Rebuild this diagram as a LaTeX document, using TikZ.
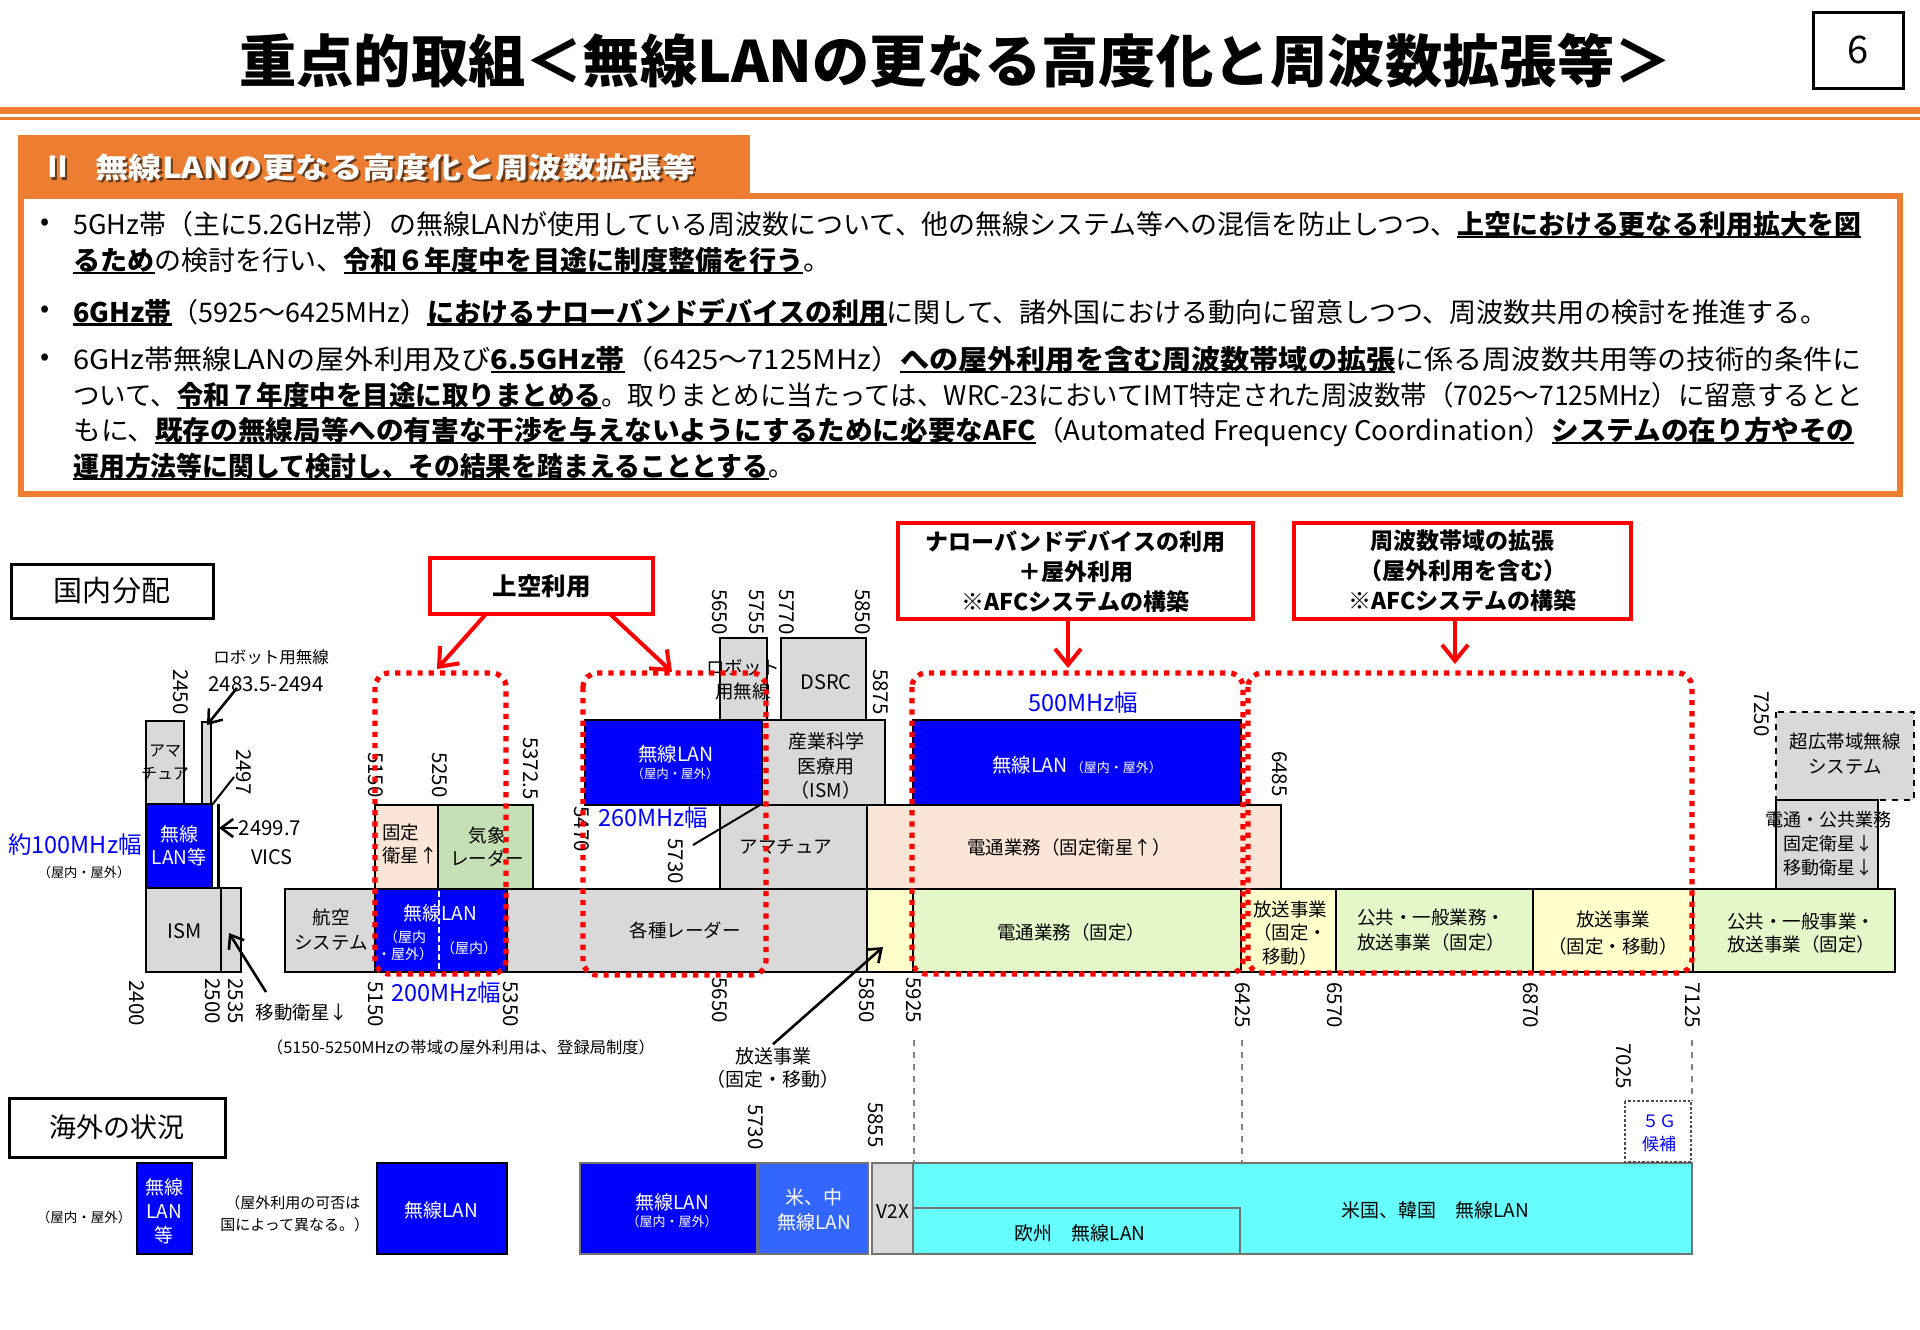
\documentclass[tikz,border=0pt]{standalone}
\usepackage{fontspec}
\usepackage{graphicx}
\setmainfont{Noto Sans CJK JP}
\usetikzlibrary{arrows.meta}
\definecolor{orng}{HTML}{ED7D31}
\definecolor{bblue}{HTML}{0000FF}
\definecolor{lblue}{HTML}{3366FF}
\definecolor{cyn}{HTML}{66FFFF}
\definecolor{gry}{HTML}{D9D9D9}
\definecolor{pch}{HTML}{FBE5D6}
\definecolor{grn}{HTML}{C5E0B4}
\definecolor{lgrn}{HTML}{E4F7C8}
\definecolor{lyel}{HTML}{FFFFCC}
\definecolor{rd}{HTML}{FF0000}
\definecolor{shd}{HTML}{6B3A16}
\newlength\pxu \setlength\pxu{0.5pt}
\newsavebox\ulbox
\newcommand\fs[2]{\fontsize{#1pt}{#2pt}\selectfont}
\newcommand\fw[2]{\resizebox{#1\pxu}{\height}{#2}}
\newcommand\ul[1]{\sbox\ulbox{\bfseries #1}\rlap{\rule[-3.5\pxu]{\wd\ulbox}{2.2\pxu}}\usebox\ulbox}
\begin{document}
\begin{tikzpicture}[x=0.5pt,y=-0.5pt,
  lbl/.style={inner sep=0, font=\fs{9.25}{12}, align=center},
  wt/.style={lbl, text=white},
  frq/.style={rotate=-90, inner sep=0, font=\fs{10.25}{12}},
  bluet/.style={inner sep=0, text=bblue, font=\fs{11.75}{14}},
  band/.style={draw=black, line width=1.3pt},
  ovs/.style={draw=black!55, line width=0.9pt},
  reddot/.style={draw=rd, line width=2.6pt, dash pattern=on 2.6pt off 3pt, rounded corners=7pt},
  redbox/.style={draw=rd, line width=2pt, fill=white, inner sep=0, align=center, font=\bfseries\fs{11.5}{15}},
  blkbox/.style={draw=black, line width=1.5pt, inner sep=0},
  rarrow/.style={draw=rd, line width=2pt, -{Straight Barb[length=8pt,width=13pt]}},
  barrow/.style={draw=black, line width=1.3pt, -{Straight Barb[length=6pt,width=9pt]}},
  bodyt/.style={anchor=west, inner sep=0, font=\fs{13.5}{16}}
]
\useasboundingbox (0,0) rectangle (1920,1329);
\fill[white] (0,0) rectangle (1920,1329);

% ---------------- header ----------------
\node[inner sep=0, anchor=west, font=\bfseries\fs{28.5}{30}] (title) at (239,61) {\fw{1432}{重点的取組＜無線LANの更なる高度化と周波数拡張等＞}};
\node[blkbox, minimum width=90\pxu, minimum height=76\pxu, font=\fs{19}{20}] (pageno) at (1858,50) {6};
\fill[orng] (0,107) rectangle (1920,114);
\fill[orng] (0,117) rectangle (1920,119.5);

% ---------------- section box ----------------
\draw[orng, line width=3pt] (21,196) rectangle (1900,494);
\fill[orng] (18,135) rectangle (750,199);
\node[anchor=west, inner sep=0, font=\bfseries\fs{14.4}{16}, text=shd] (s2sh) at (45.5,169.5) {Ⅱ};
\node[anchor=west, inner sep=0, font=\bfseries\fs{14.4}{16}, text=shd] (sttlsh) at (97.5,169.5) {\fw{600}{無線LANの更なる高度化と周波数拡張等}};
\node[anchor=west, inner sep=0, font=\bfseries\fs{14.4}{16}, text=white] (s2) at (43,167) {Ⅱ};
\node[anchor=west, inner sep=0, font=\bfseries\fs{14.4}{16}, text=white] (sttl) at (95,167) {\fw{600}{無線LANの更なる高度化と周波数拡張等}};

\node[bodyt] (bu1) at (40,225) {•};
\node[bodyt] (bu2) at (40,312) {•};
\node[bodyt] (bu3) at (40,360) {•};
\node[bodyt] (l1) at (73,225) {\fw{1788}{5GHz帯（主に5.2GHz帯）の無線LANが使用している周波数について、他の無線システム等への混信を防止しつつ、\ul{上空における更なる利用拡大を図}}};
\node[bodyt] (l2) at (73,261) {\fw{757}{\ul{るため}の検討を行い、\ul{令和６年度中を目途に制度整備を行う}。}};
\node[bodyt] (l3) at (73,312) {\fw{1754}{\ul{6GHz帯}（5925～6425MHz）\ul{におけるナローバンドデバイスの利用}に関して、諸外国における動向に留意しつつ、周波数共用の検討を推進する。}};
\node[bodyt] (l4) at (73,360) {\fw{1788}{6GHz帯無線LANの屋外利用及び\ul{6.5GHz帯}（6425～7125MHz）\ul{への屋外利用を含む周波数帯域の拡張}に係る周波数共用等の技術的条件に}};
\node[bodyt] (l5) at (73,396) {\fw{1790}{ついて、\ul{令和７年度中を目途に取りまとめる}。取りまとめに当たっては、WRC-23においてIMT特定された周波数帯（7025～7125MHz）に留意するとと}};
\node[bodyt] (l6) at (73,432) {\fw{1781}{もに、\ul{既存の無線局等への有害な干渉を与えないようにするために必要なAFC}（Automated Frequency Coordination）\ul{システムの在り方やその}}};
\node[bodyt] (l7) at (73,467) {\fw{721}{\ul{運用方法等に関して検討し、その結果を踏まえることとする}。}};

% ---------------- labels boxes ----------------
\node[blkbox, minimum width=202\pxu, minimum height=54\pxu, font=\fs{14.5}{16}] (kokunai) at (112,591) {国内分配};
\node[blkbox, minimum width=216\pxu, minimum height=59\pxu, font=\fs{13.5}{16}] (kaigai) at (117,1127.5) {海外の状況};

% ---------------- left 2.4GHz group ----------------
\draw[band, fill=gry] (146,721) rectangle (184,804);
\draw[band, fill=gry] (202,722) rectangle (211,805);
\draw[band, fill=bblue] (146,804) rectangle (212,888);
\draw[line width=1.5pt] (218,804) -- (218,888);
\draw[band, fill=gry] (146,888) rectangle (221,972);
\draw[band, fill=gry] (221,888) rectangle (241,972);
\node[lbl, font=\fs{8}{11.5}] (ama0) at (165,763) {アマ\\チュア};
\node[wt, font=\fs{9.5}{11.5}] (wlan0) at (179,846) {無線\\LAN等};
\node[lbl, font=\fs{10}{12}] (ism0) at (185,931) {ISM};
\node[lbl, font=\fs{8.25}{10}] (robo0) at (271,657) {ロボット用無線};
\node[lbl, font=\fs{10.25}{12}] (robof) at (266,684) {2483.5-2494};
\coordinate (robotip) at (207,725);
\draw[barrow] (robof.south west) ++(29,-4) coordinate (robostart) -- (robotip);
\node[lbl, font=\fs{10.25}{12}] (vicsf) at (270,828) {2499.7};
\coordinate (vicstip) at (219,828);
\draw[barrow] (vicsf.west) -- (vicstip);
\node[lbl, font=\fs{10}{12}] (vics) at (272,857) {VICS};
\node[bluet] (w100) at (75,845) {約100MHz幅};
\node[lbl, font=\fs{6.6}{8}] (w100s) at (84,872) {（屋内・屋外）};
\node[lbl, font=\fs{9.25}{11}] (idou) at (302,1012) {移動衛星↓};
\coordinate (idoutip) at (229,933);
\coordinate (idoustart) at (266,992);
\draw[barrow] (idoustart) -- (idoutip);
\coordinate (p2497a) at (212,805);
\coordinate (p2497b) at (234,777);
\draw[line width=1pt] (p2497a) -- (p2497b);

% ---------------- 5GHz band ----------------
\draw[band, fill=gry] (285,889) rectangle (375,972);
\draw[band, fill=bblue] (375,889) rectangle (507,972);
\draw[white, line width=1.2pt, dash pattern=on 3pt off 1.5pt] (439,891) -- (439,970);
\draw[band, fill=pch] (375,805) rectangle (438,889);
\draw[band, fill=grn] (438,805) rectangle (533,889);
\draw[band, fill=gry] (507,889) rectangle (867,972);
\draw[band, fill=bblue] (585,720) rectangle (762,805);
\draw[band, fill=gry] (720,805) rectangle (867,889);
\draw[band, fill=gry] (720,638) rectangle (767,720);
\draw[band, fill=gry] (781,638) rectangle (866,720);
\draw[band, fill=gry] (762,720) rectangle (885,805);
\draw[band, fill=lyel] (867,889) rectangle (913,972);
\draw[band, fill=pch] (867,805) rectangle (1281,889);
\draw[band, fill=bblue] (913,720) rectangle (1241,805);
\draw[band, fill=lgrn] (913,889) rectangle (1241,972);
\draw[band, fill=lyel] (1241,889) rectangle (1336,972);
\draw[band, fill=lgrn] (1336,889) rectangle (1533,972);
\draw[band, fill=lyel] (1533,889) rectangle (1693,972);
\draw[band, fill=lgrn] (1693,889) rectangle (1895,972);
\draw[band, fill=gry, dashed] (1776,712) rectangle (1914,800);
\draw[band, fill=gry] (1776,800) rectangle (1878,889);

\node[lbl, font=\fs{9.25}{12.5}] (kouku) at (331,930) {航空\\システム};
\node[lbl, anchor=west, align=left, font=\fs{9.25}{11.5}] (kotei) at (382,844) {固定\\衛星↑};
\node[lbl, font=\fs{9.25}{11.5}] (kisho) at (487,847) {気象\\レーダー};
\node[wt, font=\fs{9.5}{11}] (w5150) at (440,913) {無線LAN};
\node[wt, font=\fs{7}{8.5}] (w5150a) at (405,946) {（屋内\\・屋外）};
\node[wt, font=\fs{7}{8.5}] (w5150b) at (469,948) {（屋内）};
\node[lbl] (kakushu) at (685,930) {各種レーダー};
\node[wt, font=\fs{9.75}{11}] (wB) at (676,754) {無線LAN};
\node[wt, font=\fs{6.2}{8}] (wBs) at (675,774) {（屋内・屋外）};
\node[bluet] (w260) at (653,818) {260MHz幅};
\coordinate (p5730a) at (693,845);
\coordinate (p5730b) at (760,805);
\draw[line width=1pt] (p5730a) -- (p5730b);
\node[lbl, font=\fs{9.25}{12}] (robo) at (743,680) {ロボット\\用無線};
\node[lbl, font=\fs{10}{12}] (dsrc) at (826,682) {DSRC};
\node[lbl, font=\fs{9.5}{12.25}] (sangyo) at (826,766) {産業科学\\医療用\\（ISM）};
\node[lbl] (ama1) at (786,847) {アマチュア};
\node[lbl, font=\fs{9.5}{11.5}] (hosolbl) at (773,1068) {放送事業\\（固定・移動）};
\coordinate (hosotip) at (883,947);
\draw[barrow] (hosolbl.north) ++(0,-3) coordinate (hosostart) -- (hosotip);
\node[bluet] (w500) at (1083,703) {500MHz幅};
\node[wt, font=\fs{9.75}{11}] (wC) at (1077,765) {無線LAN\,{\fs{6.5}{8}（屋内・屋外）}};
\node[lbl] (dentsu1) at (1069,847) {電通業務（固定衛星↑）};
\node[lbl] (dentsu2) at (1071,932) {電通業務（固定）};
\node[lbl, font=\fs{9.25}{11.75}] (hoso1) at (1290,933) {放送事業\\（固定・\\移動）};
\node[lbl, font=\fs{9.25}{12.5}] (kokyo1) at (1431,930) {公共・一般業務・\\放送事業（固定）};
\node[lbl, font=\fs{9.25}{13.5}] (hoso2) at (1613,933) {放送事業\\（固定・移動）};
\node[lbl, font=\fs{9.25}{11.25}] (kokyo2) at (1801,933) {公共・一般事業・\\放送事業（固定）};
\node[lbl, font=\fs{9.25}{12.5}] (uwb) at (1845,754) {超広帯域無線\\システム};
\node[lbl, font=\fs{9}{12}] (dkoukyo) at (1828,844) {電通・公共業務\\固定衛星↓\\移動衛星↓};
\node[lbl, font=\fs{8}{10}] (note) at (461,1047) {\fw{388}{（5150-5250MHzの帯域の屋外利用は、登録局制度）}};
\node[bluet] (w200) at (446,993) {200MHz幅};

% ---------------- frequency labels ----------------
\node[frq, anchor=east] (f2450) at (181,715) {2450};
\node[frq, anchor=east] (f2497) at (244,795) {2497};
\node[frq, anchor=east] (f5150t) at (376,798) {5150};
\node[frq, anchor=east] (f5250) at (440,798) {5250};
\node[frq, anchor=east] (f5372) at (531,800) {5372.5};
\node[frq, anchor=east] (f5650t) at (720,635) {5650};
\node[frq, anchor=east] (f5755) at (757,635) {5755};
\node[frq, anchor=east] (f5770) at (787,635) {5770};
\node[frq, anchor=east] (f5850t) at (863,635) {5850};
\node[frq, anchor=east] (f5875) at (881,715) {5875};
\node[frq, anchor=east] (f6485) at (1280,797) {6485};
\node[frq, anchor=east] (f7250) at (1762,737) {7250};
\node[frq, anchor=west] (f5470) at (582,806) {5470};
\node[frq, anchor=west] (f5730) at (676,838) {5730};
\node[frq, anchor=west] (f2400) at (137,980) {2400};
\node[frq, anchor=west] (f2500) at (213,978) {2500};
\node[frq, anchor=west] (f2535) at (236,978) {2535};
\node[frq, anchor=west] (f5150b) at (376,981) {5150};
\node[frq, anchor=west] (f5350) at (511,981) {5350};
\node[frq, anchor=west] (f5650b) at (720,977) {5650};
\node[frq, anchor=west] (f5850b) at (867,977) {5850};
\node[frq, anchor=west] (f5925) at (914,977) {5925};
\node[frq, anchor=west] (f6425) at (1243,982) {6425};
\node[frq, anchor=west] (f6570) at (1335,982) {6570};
\node[frq, anchor=west] (f6870) at (1531,982) {6870};
\node[frq, anchor=west] (f7125) at (1693,982) {7125};
\node[frq, anchor=west] (f7025) at (1624,1043) {7025};
\node[frq, anchor=east] (f5730o) at (756,1150) {5730};
\node[frq, anchor=east] (f5855o) at (876,1148) {5855};

% ---------------- overseas ----------------
\draw[gray, dashed, line width=0.8pt] (914,1040) -- (914,1163);
\draw[gray, dashed, line width=0.8pt] (1242,1040) -- (1242,1163);
\draw[gray, dashed, line width=0.8pt] (1692,1040) -- (1692,1101);
\draw[band, fill=bblue] (137,1163) rectangle (192,1254);
\draw[band, fill=bblue] (377,1163) rectangle (507,1254);
\draw[ovs, fill=bblue] (580,1163) rectangle (757,1254);
\draw[ovs, fill=lblue] (758,1163) rectangle (868,1254);
\draw[ovs, fill=gry] (872,1163) rectangle (913,1254);
\draw[ovs, fill=cyn] (913,1163) rectangle (1692,1254);
\draw[ovs, fill=cyn] (913,1208) rectangle (1240,1254);
\draw[draw=black!70, line width=1.3pt, densely dotted, fill=white] (1625,1101) rectangle (1691,1162);
\node[lbl, font=\fs{6.75}{8}] (ovsio) at (84,1217) {（屋内・屋外）};
\node[wt, font=\fs{9.5}{12}] (ow1) at (164,1211) {無線\\LAN\\等};
\node[lbl, anchor=west, align=left, font=\fs{7.5}{11}] (ovnote) at (220,1214) {\hspace{5\pxu}（屋外利用の可否は\\国によって異なる。）};
\node[wt, font=\fs{9.5}{12}] (ow2) at (441,1210) {無線LAN};
\node[wt, font=\fs{9.5}{11}] (ow3) at (672,1202) {無線LAN};
\node[wt, font=\fs{6.5}{8}] (ow3s) at (672,1222) {（屋内・屋外）};
\node[wt, font=\fs{9.5}{12.5}] (ow4) at (814,1210) {米、中\\無線LAN};
\node[lbl, font=\fs{9.5}{12}] (v2x) at (893,1212) {V2X};
\node[lbl, font=\fs{9.5}{12}] (usko) at (1435,1210) {米国、韓国　無線LAN};
\node[lbl, font=\fs{9.5}{12}] (eu) at (1080,1233) {欧州　無線LAN};
\node[lbl, text=bblue, font=\fs{8.5}{11.5}] (fiveg) at (1659,1133) {５Ｇ\\候補};

% ---------------- red callouts ----------------
\node[redbox, minimum width=223\pxu, minimum height=56\pxu, font=\bfseries\fs{12.25}{15}] (jk) at (541.5,586) {上空利用};
\node[redbox, minimum width=355\pxu, minimum height=96\pxu] (nb) at (1075.5,571) {ナローバンドデバイスの利用\\＋屋外利用\\※AFCシステムの構築};
\node[redbox, minimum width=337\pxu, minimum height=96\pxu] (kc) at (1462.5,571) {周波数帯域の拡張\\（屋外利用を含む）\\※AFCシステムの構築};
\coordinate (jkL) at (486,614);
\coordinate (jkLt) at (437,669);
\coordinate (jkR) at (610,614);
\coordinate (jkRt) at (672,672);
\coordinate (nbt) at (1068,668);
\coordinate (kct) at (1455,664);
\draw[rarrow] (jkL) -- (jkLt);
\draw[rarrow] (jkR) -- (jkRt);
\draw[rarrow] (nb.south -| nbt) -- (nbt);
\draw[rarrow] (kc.south -| kct) -- (kct);

% ---------------- red dotted regions ----------------
\draw[reddot] (375,673) rectangle (506,974);
\draw[reddot] (583,673) rectangle (766,975);
\draw[reddot] (912,673) rectangle (1243,974);
\draw[reddot] (1248,673) rectangle (1692,973);
\end{tikzpicture}
\end{document}
